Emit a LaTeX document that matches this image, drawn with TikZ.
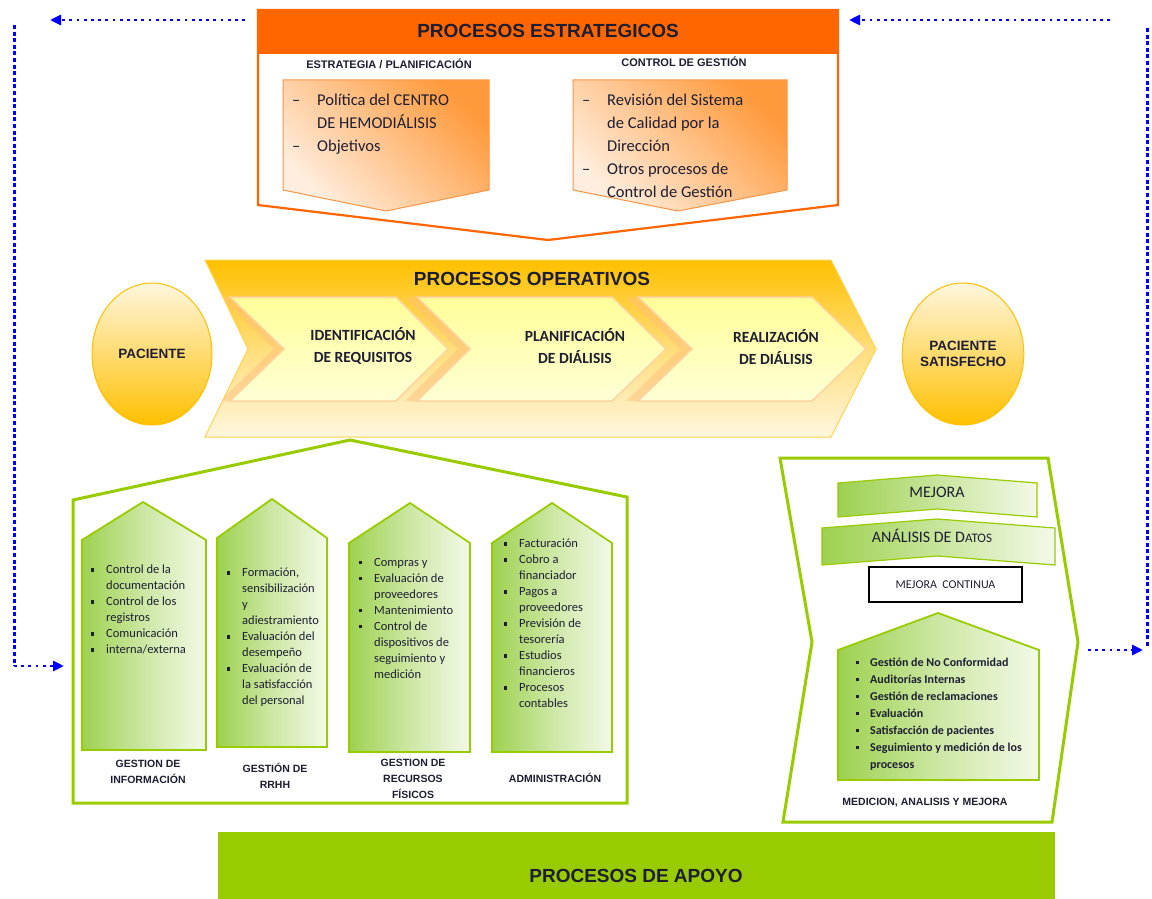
\documentclass[tikz,border=0pt]{standalone}
\usepackage{fontspec}
\setmainfont{Carlito}
\newfontfamily\arialf{Liberation Sans}
\usetikzlibrary{arrows.meta,shapes.geometric}
\definecolor{orh}{HTML}{FF6600}
\definecolor{orbright}{HTML}{FF9A3C}
\definecolor{orpale}{HTML}{FFEEDF}
\definecolor{orborder}{HTML}{F79646}
\definecolor{amber}{HTML}{FFC000}
\definecolor{amberpale}{HTML}{FFF6DE}
\definecolor{ylw}{HTML}{FFFF99}
\definecolor{ylwpale}{HTML}{FFFFD6}
\definecolor{peach}{HTML}{FFD3A0}
\definecolor{peachsh}{HTML}{FFC07A}
\definecolor{grn}{HTML}{99CC00}
\definecolor{grnfill}{HTML}{9DD150}
\definecolor{grnpale}{HTML}{F3F9E8}
\definecolor{bluea}{HTML}{0000FF}
\definecolor{txt}{HTML}{1E1E32}
\newcommand{\dashitem}{\makebox[25pt][l]{–}}
\newcommand{\dashind}{\hspace*{25pt}}
\newcommand{\sqitem}{\makebox[15pt][l]{\rule[2.2pt]{3.2pt}{3.2pt}}}
\newcommand{\sqind}{\hspace*{15pt}}
\newcommand{\sqitemr}{\makebox[14pt][l]{\rule[2.2pt]{3.2pt}{3.2pt}}}
\newcommand{\sqindr}{\hspace*{14pt}}
\tikzset{
  hdr/.style={font=\arialf\bfseries\fontsize{19}{21}\selectfont, text=txt, inner sep=0pt},
  subhdr/.style={font=\arialf\bfseries\fontsize{11}{13}\selectfont, text=txt, inner sep=0pt},
  otext/.style={font=\fontsize{16.5}{23}\selectfont, text=txt, align=left, inner sep=0pt, anchor=north west},
  orbox/.style={draw=orborder, line width=1pt, top color=orbright, bottom color=orpale, shading angle=-45},
  orline/.style={draw=orh, line width=2.2pt, line join=miter},
  bigchev/.style={draw=amber!70, line width=1pt, top color=amber, bottom color=amberpale, middle color=amber!45!amberpale},
  chev/.style={draw=peach, line width=1.5pt, top color=ylw, bottom color=ylwpale},
  chevshadow/.style={fill=peachsh, fill opacity=0.5},
  chevtext/.style={font=\bfseries\fontsize{15.5}{22}\selectfont, text=txt, align=center, inner sep=0pt},
  pacnode/.style={ellipse, draw=amber, line width=1pt, top color=amberpale, bottom color=amber, minimum width=120pt, minimum height=142pt, inner sep=0pt, font=\arialf\bfseries\fontsize{13.5}{16}\selectfont, text=txt, align=center},
  grline/.style={draw=grn, line width=3pt, line join=miter},
  card/.style={draw=grn, line width=1.8pt, left color=grnfill, right color=grnpale, middle color=grnfill!45!grnpale},
  banner/.style={draw=grn, line width=1.2pt, left color=grnfill, right color=grnpale},
  ctext/.style={font=\fontsize{12.5}{16}\selectfont, text=txt, align=left, inner sep=0pt, anchor=north west},
  rtext/.style={font=\bfseries\fontsize{12}{16.9}\selectfont, text=txt, align=left, inner sep=0pt, anchor=north west},
  clabel/.style={font=\arialf\bfseries\fontsize{10.5}{15.7}\selectfont, text=txt, align=center, inner sep=0pt},
  hdot/.style={draw=bluea, line width=2.8pt, dash pattern=on 2.8pt off 4.4pt},
  vdash/.style={draw=bluea, line width=3pt, dash pattern=on 4pt off 2.6pt},
  btip/.style={-{Triangle[length=11pt,width=10pt]}}
}
\begin{document}
\begin{tikzpicture}[x=1pt,y=-1pt]
\useasboundingbox (0,0) rectangle (1152,899);
\fill[white] (0,0) rectangle (1152,899);

% ---------- Strategic processes ----------
\draw[orline, fill=white] (258,10) -- (838,10) -- (838,205) -- (548,240) -- (258,205) -- cycle;
\fill[orh] (258,10) rectangle (838,54);
\node[hdr] (estr) at (548,31) {PROCESOS ESTRATEGICOS};
\node[subhdr] (plan) at (389,64) {ESTRATEGIA / PLANIFICACIÓN};
\node[subhdr] (ctrl) at (684,62) {CONTROL DE GESTIÓN};
\path[orbox] (283,80) -- (489,80) -- (489,190) -- (386,211) -- (283,190) -- cycle;
\path[orbox] (573,80) -- (787,80) -- (787,190) -- (678,211) -- (573,190) -- cycle;
\node[otext] (s1) at (292,94) {\dashitem Política del CENTRO\\\dashind DE HEMODIÁLISIS\\\dashitem Objetivos};
\node[otext] (s2) at (582,94) {\dashitem Revisión del Sistema\\\dashind de Calidad por la\\\dashind Dirección\\\dashitem Otros procesos de\\\dashind Control de Gestión};

% ---------- Operative processes ----------
\path[bigchev] (205,260) -- (831,260) -- (876,349) -- (831,437) -- (205,437) -- (248,349) -- cycle;
\node[hdr] (oper) at (532,279) {PROCESOS OPERATIVOS};
\begin{scope}
\clip (205,260) -- (831,260) -- (876,349) -- (831,437) -- (205,437) -- (248,349) -- cycle;
\path[chevshadow] (220,297) -- (386,297) -- (438,349) -- (386,401) -- (220,401) -- (274,349) -- cycle;
\path[chevshadow] (405,297) -- (600,297) -- (654,349) -- (600,401) -- (405,401) -- (458,349) -- cycle;
\path[chevshadow] (626,297) -- (800,297) -- (854,349) -- (800,401) -- (626,401) -- (680,349) -- cycle;
\end{scope}
\path[chev] (230,297) -- (396,297) -- (448,349) -- (396,401) -- (230,401) -- (284,349) -- cycle;
\path[chev] (417,297) -- (612,297) -- (666,349) -- (612,401) -- (417,401) -- (470,349) -- cycle;
\path[chev] (638,297) -- (812,297) -- (866,349) -- (812,401) -- (638,401) -- (692,349) -- cycle;
\node[chevtext] (ident) at (363,346) {IDENTIFICACIÓN\\DE REQUISITOS};
\node[chevtext] (planif) at (575,346) {PLANIFICACIÓN\\DE DIÁLISIS};
\node[chevtext] (realiz) at (776,347) {REALIZACIÓN\\DE DIÁLISIS};
\node[pacnode] (pac) at (152,354) {PACIENTE};
\node[pacnode] (pacsat) at (963,354) {PACIENTE\\SATISFECHO};

% ---------- Support panel ----------
\draw[grline] (73,500) -- (350,440) -- (627,497) -- (627,803) -- (73,803) -- cycle;
\path[card] (82,540) -- (143,502) -- (206,540) -- (206,750) -- (82,750) -- cycle;
\path[card] (217,538) -- (272,499) -- (327,538) -- (327,747) -- (217,747) -- cycle;
\path[card] (349,543) -- (410,503) -- (470,543) -- (470,752) -- (349,752) -- cycle;
\path[card] (492,543) -- (552,503) -- (612,543) -- (612,752) -- (492,752) -- cycle;
\node[ctext] (c1) at (91,565) {\sqitem Control de la\\\sqind documentación\\\sqitem Control de los\\\sqind registros\\\sqitem Comunicación\\\sqitem interna/externa};
\node[ctext] (c2) at (227,568) {\sqitem Formación,\\\sqind sensibilización\\\sqind y\\\sqind adiestramiento\\\sqitem Evaluación del\\\sqind desempeño\\\sqitem Evaluación de\\\sqind la satisfacción\\\sqind del personal};
\node[ctext] (c3) at (359,558) {\sqitem Compras y\\\sqitem Evaluación de\\\sqind proveedores\\\sqitem Mantenimiento\\\sqitem Control de\\\sqind dispositivos de\\\sqind seguimiento y\\\sqind medición};
\node[ctext] (c4) at (504,539) {\sqitem Facturación\\\sqitem Cobro a\\\sqind financiador\\\sqitem Pagos a\\\sqind proveedores\\\sqitem Previsión de\\\sqind tesorería\\\sqitem Estudios\\\sqind financieros\\\sqitem Procesos\\\sqind contables};
\node[clabel] (l1) at (148,772) {GESTION DE\\INFORMACIÓN};
\node[clabel] (l2) at (275,776) {GESTIÓN DE\\RRHH};
\node[clabel] (l3) at (413,779) {GESTION DE\\RECURSOS\\FÍSICOS};
\node[clabel] (l4) at (555,778) {ADMINISTRACIÓN};

% ---------- Measurement panel ----------
\draw[grline] (780,458) -- (1048,458) -- (1078,642) -- (1052,822) -- (783,822) -- (812,642) -- cycle;
\path[banner] (838,483) -- (937,475) -- (1037,483) -- (1037,517) -- (937,509) -- (838,517) -- cycle;
\node[font=\fontsize{16}{18}\selectfont, text=txt, inner sep=0pt] (mej) at (937,492) {MEJORA};
\path[banner] (822,528) -- (937,519) -- (1055,528) -- (1055,565) -- (937,556) -- (822,565) -- cycle;
\node[font=\fontsize{16}{18}\selectfont, text=txt, inner sep=0pt] (anal) at (932,536) {ANÁLISIS DE D{\fontsize{13}{15}\selectfont ATOS}};
\node[draw=black, line width=1.5pt, minimum width=153pt, minimum height=35pt, inner sep=0pt, font=\fontsize{12}{14}\selectfont, text=txt] (mc) at (945.5,584.5) {MEJORA\ \ CONTINUA};
\path[card] (838,650) -- (938,613) -- (1039,650) -- (1039,780) -- (838,780) -- cycle;
\node[rtext] (r1) at (856,658) {\sqitemr Gestión de No Conformidad\\\sqitemr Auditorías Internas\\\sqitemr Gestión de reclamaciones\\\sqitemr Evaluación\\\sqitemr Satisfacción de pacientes\\\sqitemr Seguimiento y medición de los\\\sqindr procesos};
\node[clabel] (l5) at (925,803) {MEDICION, ANALISIS Y MEJORA};

% ---------- Support bar ----------
\fill[grn] (218,832) rectangle (1055,899);
\node[hdr] (apoyo) at (636,876) {PROCESOS DE APOYO};

% ---------- Feedback arrows ----------
\coordinate (a1) at (245,20);
\coordinate (a2) at (50,20);
\coordinate (a3) at (14,25);
\coordinate (a4) at (14,666);
\coordinate (a5) at (64,666);
\coordinate (b1) at (1110,20);
\coordinate (b2) at (849,20);
\coordinate (b3) at (1147,28);
\coordinate (b4) at (1147,648);
\coordinate (b5) at (1088,650);
\coordinate (b6) at (1143,650);
\draw[hdot, btip] (a1) -- (a2);
\draw[vdash] (a3) -- (a4);
\draw[hdot, btip] (a4) -- (a5);
\draw[hdot, btip] (b1) -- (b2);
\draw[vdash] (b3) -- (b4);
\draw[hdot, btip] (b5) -- (b6);
\end{tikzpicture}
\end{document}
